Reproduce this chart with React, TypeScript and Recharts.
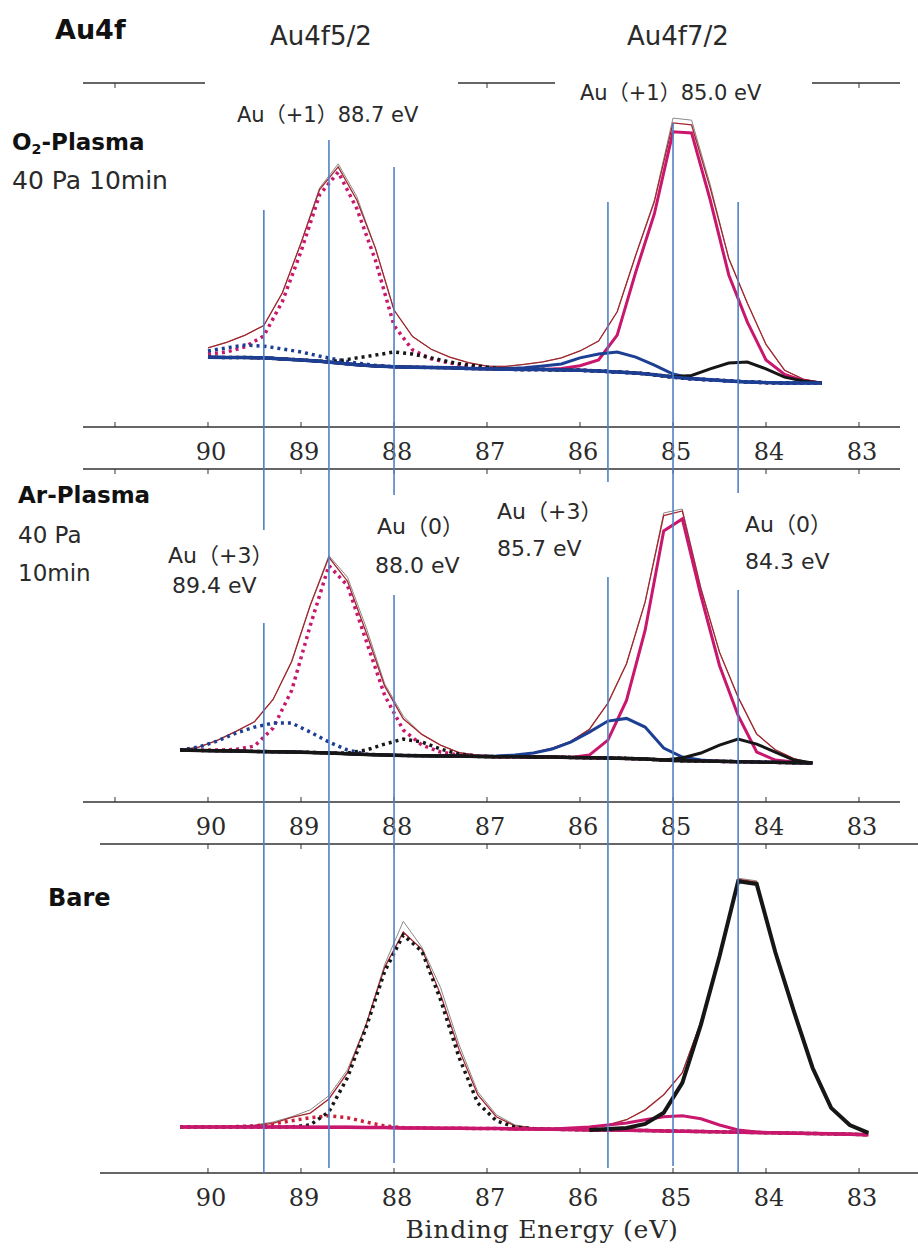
import { LineChart, Line, XAxis, YAxis, ReferenceLine } from 'recharts'

// ── Au4f spectra (binding energy in eV, intensity in arbitrary units) ─────────

// O2 plasma, 40 Pa, 10 min
const o2Energy = [90.0, 89.8, 89.6, 89.4, 89.2, 89.0, 88.8, 88.6, 88.4, 88.2, 88.0, 87.8, 87.6, 87.4, 87.2, 87.0, 86.8, 86.6, 86.4, 86.2, 86.0, 85.8, 85.6, 85.4, 85.2, 85.0, 84.8, 84.6, 84.4, 84.2, 84.0, 83.8, 83.6, 83.4]
const o2Raw = [23.0, 24.6, 26.7, 29.5, 39.0, 53.5, 69.5, 76.5, 67.0, 52.0, 34.0, 26.3, 22.6, 20.3, 18.7, 17.7, 17.6, 18.2, 18.9, 20.1, 22.1, 25.0, 33.5, 50.0, 66.0, 89.8, 89.2, 70.5, 49.0, 36.0, 24.0, 16.5, 13.9, 12.9]
const o2Fit = [23.0, 24.6, 26.7, 29.5, 39.0, 53.5, 69.0, 75.6, 66.0, 52.0, 34.0, 26.3, 22.6, 20.3, 18.7, 17.7, 17.6, 18.2, 18.9, 20.1, 22.1, 25.0, 33.5, 50.0, 65.5, 88.4, 87.8, 69.5, 49.0, 36.0, 24.0, 16.5, 13.9, 12.9]
const o2Bg = [20.3, 20.2, 20.2, 20.1, 19.8, 19.5, 19.1, 18.6, 18.1, 17.7, 17.5, 17.4, 17.3, 17.2, 17.0, 16.9, 16.8, 16.7, 16.7, 16.6, 16.5, 16.3, 16.0, 15.7, 15.2, 14.5, 14.0, 13.7, 13.4, 13.1, 12.9, 12.8, 12.8, 12.8]
const o2AuI72 = [20.3, 20.2, 20.2, 20.1, 19.8, 19.5, 19.1, 18.6, 18.1, 17.7, 17.5, 17.4, 17.3, 17.2, 17.0, 16.9, 16.8, 16.7, 16.7, 17.0, 17.8, 19.5, 26.7, 45.1, 62.0, 85.8, 85.5, 66.0, 44.2, 30.5, 19.5, 15.3, 13.5, 12.8]
const o2AuI52 = [21.2, 21.8, 23.3, 26.5, 36.5, 51.0, 67.5, 74.1, 63.5, 48.5, 29.5, 22.4, 19.8, 18.6, 17.7, 17.2, 16.8, 16.7, 16.7, 16.6, 16.5, 16.3, 16.0, 15.7, 15.2, 14.5, 14.0, 13.7, 13.4, 13.1, 12.9, 12.8, 12.8, 12.8]
const o2AuIII72 = [20.3, 20.2, 20.2, 20.1, 19.8, 19.5, 19.1, 18.6, 18.1, 17.7, 17.5, 17.4, 17.3, 17.2, 17.0, 16.9, 17.0, 17.2, 17.7, 18.3, 20.1, 21.2, 21.8, 20.3, 18.0, 15.4, 14.2, 13.7, 13.4, 13.1, 12.9, 12.8, 12.8, 12.8]
const o2AuIII52 = [22.1, 23.0, 23.8, 23.5, 22.7, 21.8, 20.6, 19.5, 18.6, 17.9, 17.5, 17.4, 17.3, 17.2, 17.0, 16.9, 16.8, 16.7, 16.7, 16.6, 16.5, 16.3, 16.0, 15.7, 15.2, 14.5, 14.0, 13.7, 13.4, 13.1, 12.9, 12.8, 12.8, 12.8]
const o2Au072 = [20.3, 20.2, 20.2, 20.1, 19.8, 19.5, 19.1, 18.6, 18.1, 17.7, 17.5, 17.4, 17.3, 17.2, 17.0, 16.9, 16.8, 16.7, 16.7, 16.6, 16.5, 16.3, 16.0, 15.7, 15.2, 14.6, 15.0, 16.9, 18.6, 18.9, 16.9, 14.5, 13.4, 12.8]
const o2Au052 = [20.3, 20.2, 20.2, 20.1, 19.8, 19.5, 19.1, 19.2, 20.1, 20.9, 21.8, 21.2, 20.1, 18.9, 18.0, 17.4, 16.8, 16.7, 16.7, 16.6, 16.5, 16.3, 16.0, 15.7, 15.2, 14.5, 14.0, 13.7, 13.4, 13.1, 12.9, 12.8, 12.8, 12.8]

// Ar plasma, 40 Pa, 10 min
const arEnergy = [90.3, 90.1, 89.9, 89.7, 89.5, 89.3, 89.1, 88.9, 88.7, 88.5, 88.3, 88.1, 87.9, 87.7, 87.5, 87.3, 87.1, 86.9, 86.7, 86.5, 86.3, 86.1, 85.9, 85.7, 85.5, 85.3, 85.1, 84.9, 84.7, 84.5, 84.3, 84.1, 83.9, 83.7, 83.5]
const arRaw = [15.6, 16.5, 18.5, 21.2, 24.1, 30.8, 42.2, 59.1, 74.0, 67.5, 52.5, 35.5, 25.8, 20.3, 17.1, 14.8, 14.1, 13.9, 14.1, 14.8, 16.2, 18.2, 21.8, 29.7, 41.5, 60.0, 86.8, 88.0, 64.5, 45.0, 31.5, 20.4, 15.7, 13.0, 11.7]
const arFit = [15.6, 16.5, 18.5, 21.2, 24.1, 30.8, 42.2, 59.1, 73.5, 66.3, 51.0, 34.8, 25.0, 20.3, 17.1, 14.8, 14.1, 13.9, 14.1, 14.8, 16.2, 18.2, 21.8, 29.7, 41.5, 60.0, 86.0, 87.4, 64.0, 45.0, 31.5, 20.4, 15.7, 13.0, 11.7]
const arBg = [15.6, 15.5, 15.4, 15.3, 15.2, 15.1, 15.0, 14.9, 14.7, 14.5, 14.3, 14.1, 14.0, 13.9, 13.8, 13.8, 13.7, 13.6, 13.6, 13.5, 13.5, 13.4, 13.3, 13.2, 13.1, 12.9, 12.6, 12.4, 12.3, 12.2, 12.1, 12.0, 11.9, 11.8, 11.7]
const arAuI72 = [15.6, 15.5, 15.4, 15.3, 15.2, 15.1, 15.0, 14.9, 14.7, 14.5, 14.3, 14.1, 14.0, 13.9, 13.8, 13.8, 13.7, 13.6, 13.6, 13.5, 13.5, 13.4, 14.1, 18.6, 30.5, 51.5, 81.4, 85.0, 62.0, 41.0, 26.0, 15.0, 12.6, 12.0, 11.7]
const arAuI52 = [15.6, 15.5, 15.6, 15.8, 16.8, 22.2, 33.5, 53.0, 71.0, 65.0, 48.5, 32.0, 21.6, 17.1, 15.0, 14.1, 13.8, 13.6, 13.6, 13.5, 13.5, 13.4, 13.3, 13.2, 13.1, 12.9, 12.6, 12.4, 12.3, 12.2, 12.1, 12.0, 11.9, 11.8, 11.7]
const arAuIII72 = [15.6, 15.5, 15.4, 15.3, 15.2, 15.1, 15.0, 14.9, 14.7, 14.5, 14.3, 14.1, 14.0, 13.9, 13.8, 13.8, 13.7, 13.8, 14.1, 14.7, 15.9, 18.0, 21.0, 24.3, 25.1, 22.5, 16.2, 13.5, 12.6, 12.2, 12.1, 12.0, 11.9, 11.8, 11.7]
const arAuIII52 = [15.6, 16.5, 18.3, 20.7, 22.5, 23.7, 23.7, 21.0, 18.0, 15.6, 14.4, 14.1, 14.0, 13.9, 13.8, 13.8, 13.7, 13.6, 13.6, 13.5, 13.5, 13.4, 13.3, 13.2, 13.1, 12.9, 12.6, 12.4, 12.3, 12.2, 12.1, 12.0, 11.9, 11.8, 11.7]
const arAu072 = [15.6, 15.5, 15.4, 15.3, 15.2, 15.1, 15.0, 14.9, 14.7, 14.5, 14.3, 14.1, 14.0, 13.9, 13.8, 13.8, 13.7, 13.6, 13.6, 13.5, 13.5, 13.4, 13.3, 13.2, 13.1, 12.9, 12.6, 13.2, 14.7, 17.1, 18.9, 17.4, 15.0, 12.6, 11.7]
const arAu052 = [15.6, 15.5, 15.4, 15.3, 15.2, 15.1, 15.0, 14.9, 14.7, 14.7, 15.6, 17.4, 18.9, 18.0, 15.9, 14.4, 13.8, 13.6, 13.6, 13.5, 13.5, 13.4, 13.3, 13.2, 13.1, 12.9, 12.6, 12.4, 12.3, 12.2, 12.1, 12.0, 11.9, 11.8, 11.7]

// untreated (bare) gold
const bareEnergy = [90.3, 90.1, 89.9, 89.7, 89.5, 89.3, 89.1, 88.9, 88.7, 88.5, 88.3, 88.1, 87.9, 87.7, 87.5, 87.3, 87.1, 86.9, 86.7, 86.5, 86.3, 86.1, 85.9, 85.7, 85.5, 85.3, 85.1, 84.9, 84.7, 84.5, 84.3, 84.1, 83.9, 83.7, 83.5, 83.3, 83.1, 82.9]
const bareRaw = [14.0, 14.0, 14.0, 14.3, 14.6, 15.5, 17.1, 19.2, 23.5, 31.4, 45.1, 63.4, 76.5, 68.6, 56.4, 39.0, 24.7, 17.7, 14.6, 13.7, 13.5, 13.7, 13.7, 14.6, 16.2, 19.2, 23.8, 30.5, 46.0, 65.9, 89.6, 88.8, 67.1, 49.1, 32.0, 19.8, 14.6, 12.2]
const bareFit = [14.0, 14.0, 14.0, 14.1, 14.4, 15.1, 16.9, 18.2, 22.5, 30.5, 45.1, 62.5, 73.2, 68.0, 54.3, 37.5, 23.8, 17.1, 14.3, 13.7, 13.5, 13.7, 13.7, 14.6, 16.2, 19.2, 23.8, 30.5, 46.0, 65.9, 89.3, 88.4, 67.1, 49.1, 32.0, 19.8, 14.6, 12.2]
const bareBg = [14.0, 14.0, 14.0, 14.0, 14.0, 14.0, 14.0, 13.9, 13.9, 13.9, 13.8, 13.8, 13.7, 13.7, 13.6, 13.6, 13.5, 13.5, 13.4, 13.4, 13.3, 13.2, 13.1, 13.1, 13.0, 12.9, 12.8, 12.7, 12.6, 12.5, 12.4, 12.3, 12.2, 12.1, 12.0, 11.9, 11.8, 11.6]
const bareAuI72 = [14.0, 14.0, 14.0, 14.0, 14.0, 14.0, 14.0, 13.9, 13.9, 13.9, 13.8, 13.8, 13.7, 13.7, 13.6, 13.6, 13.5, 13.5, 13.4, 13.4, 13.4, 13.7, 14.0, 14.6, 15.2, 16.2, 17.1, 17.4, 16.5, 14.6, 13.1, 12.5, 12.2, 12.1, 12.0, 11.9, 11.8, 11.6]
const bareAuI52 = [14.0, 14.0, 14.0, 14.1, 14.3, 14.9, 15.9, 16.8, 17.4, 16.8, 15.5, 14.3, 13.8, 13.7, 13.6, 13.6, 13.5, 13.5, 13.4, 13.4, 13.3, 13.2, 13.1, 13.1, 13.0, 12.9, 12.8, 12.7, 12.6, 12.5, 12.4, 12.3, 12.2, 12.1, 12.0, 11.9, 11.8, 11.6]
// the Au(0) 7/2 component is only plotted from 85.9 eV down
const bareAu072 = [null, null, null, null, null, null, null, null, null, null, null, null, null, null, null, null, null, null, null, null, null, null, 13.1, 13.4, 13.7, 14.9, 18.3, 27.4, 45.1, 65.9, 88.7, 87.8, 67.1, 49.1, 32.0, 19.8, 14.6, 12.2]
const bareAu052 = [14.0, 14.0, 14.0, 14.0, 14.0, 14.0, 14.0, 14.6, 18.6, 29.0, 44.2, 61.3, 72.3, 67.4, 52.7, 35.1, 21.3, 15.9, 13.9, 13.5, 13.3, 13.2, 13.1, 13.1, 13.0, 12.9, 12.8, 12.7, 12.6, 12.5, 12.4, 12.3, 12.2, 12.1, 12.0, 11.9, 11.8, 11.6]

// reference peak positions (eV) and axis ticks
const peakPositions = [89.4, 88.7, 88.0, 85.7, 85.0, 84.3]
const ticksWide = [91, 90, 89, 88, 87, 86, 85, 84, 83]
const ticksNarrow = [90, 89, 88, 87, 86, 85, 84, 83]

// ── Styles / layout ──────────────────────────────────────────────────────────

const MAGENTA = '#c8176c'
const BLUE = '#1c3f94'
const BLACK = '#161616'
const BROWN = '#a3262c'
const GRAY = '#8a8a8a'
const RED = '#cc1f3a'
const MARKER = '#4f81c7'
const AXIS = '#333'
const DOTS = '3 4'

const SANS = "'DejaVu Sans', 'Noto Sans CJK JP', sans-serif"
const SERIF = "'DejaVu Serif', serif"

// vertical extent of each peak marker on the page (gaps leave room for labels)
const MARKER_RUNS: Record<number, [number, number][]> = {
  89.4: [[210, 530], [623, 1173]],
  88.7: [[140, 1168]],
  88.0: [[167, 495], [595, 1163]],
  85.7: [[202, 482], [577, 1168]],
  85.0: [[123, 1166]],
  84.3: [[202, 493], [590, 1172]],
}

interface Trace {
  key: string
  values: (number | null)[]
  color: string
  width: number
  dash?: string
}

const o2Traces: Trace[] = [
  { key: 'raw', values: o2Raw, color: GRAY, width: 1 },
  { key: 'fit', values: o2Fit, color: BROWN, width: 1.3 },
  { key: 'auI52', values: o2AuI52, color: MAGENTA, width: 3.5, dash: DOTS },
  { key: 'auIII52', values: o2AuIII52, color: BLUE, width: 3.5, dash: DOTS },
  { key: 'au052', values: o2Au052, color: BLACK, width: 3.5, dash: DOTS },
  { key: 'auI72', values: o2AuI72, color: MAGENTA, width: 3 },
  { key: 'auIII72', values: o2AuIII72, color: BLUE, width: 3 },
  { key: 'au072', values: o2Au072, color: BLACK, width: 3 },
  { key: 'bg', values: o2Bg, color: BLUE, width: 3.5 },
]

const arTraces: Trace[] = [
  { key: 'raw', values: arRaw, color: GRAY, width: 1 },
  { key: 'fit', values: arFit, color: BROWN, width: 1.3 },
  { key: 'auI52', values: arAuI52, color: MAGENTA, width: 3.5, dash: DOTS },
  { key: 'auIII52', values: arAuIII52, color: BLUE, width: 3.5, dash: DOTS },
  { key: 'au052', values: arAu052, color: BLACK, width: 3.5, dash: DOTS },
  { key: 'auI72', values: arAuI72, color: MAGENTA, width: 3 },
  { key: 'auIII72', values: arAuIII72, color: BLUE, width: 3 },
  { key: 'au072', values: arAu072, color: BLACK, width: 3 },
  { key: 'bg', values: arBg, color: BLACK, width: 3.5 },
]

const bareTraces: Trace[] = [
  { key: 'raw', values: bareRaw, color: GRAY, width: 1 },
  { key: 'fit', values: bareFit, color: BROWN, width: 1.3 },
  { key: 'auI52', values: bareAuI52, color: RED, width: 3.5, dash: DOTS },
  { key: 'au052', values: bareAu052, color: BLACK, width: 3.5, dash: DOTS },
  { key: 'bg', values: bareBg, color: MAGENTA, width: 3.5 },
  { key: 'auI72', values: bareAuI72, color: MAGENTA, width: 3 },
  { key: 'au072', values: bareAu072, color: BLACK, width: 4 },
]

// ── Ticks ────────────────────────────────────────────────────────────────────

// inward tick with the label hanging below the axis (no label for 91)
function bottomTick(props: any) {
  const { x, y, payload } = props
  const v = payload.value as number
  return (
    <g>
      <line x1={x} x2={x} y1={y} y2={y - 5} stroke={AXIS} strokeWidth={1} />
      {v <= 90 && (
        <text x={x + 3} y={y + 25} textAnchor="middle" dominantBaseline="central"
          fontFamily={SERIF} fontSize={24} fill="#2a2a2a">{v}</text>
      )}
    </g>
  )
}

function topTick(props: any) {
  const { x, y } = props
  return <line x1={x} x2={x} y1={y} y2={y + 5} stroke={AXIS} strokeWidth={1} />
}

// ── One spectrum panel ───────────────────────────────────────────────────────

interface PanelProps {
  top: number
  bottom: number
  left: number
  right: number
  domain: [number, number]
  energy: number[]
  traces: Trace[]
  ticks: number[]
}

function Panel({ top, bottom, left, right, domain, energy, traces, ticks }: PanelProps) {
  const rows = energy.map((e, i) => {
    const row: Record<string, number | null> = { e }
    traces.forEach(t => { row[t.key] = t.values[i] })
    return row
  })
  const padTop = 8
  const padBottom = 44

  // both energy axes take 1px of the margin, so the frame lines land on top/bottom
  return (
    <div style={{ position: 'absolute', left: 0, top: top - padTop }}>
      <LineChart width={918} height={bottom - top + padTop + padBottom} data={rows}
        margin={{ top: padTop - 1, right: 918 - right, bottom: padBottom - 1, left }}>
        <XAxis xAxisId="b" dataKey="e" type="number" domain={domain} reversed allowDataOverflow
          ticks={ticks} interval={0} height={1} tickSize={0} tickMargin={0} tickLine={false}
          axisLine={{ stroke: AXIS, strokeWidth: 1.3 }} tick={bottomTick} />
        <XAxis xAxisId="t" orientation="top" dataKey="e" type="number" domain={domain} reversed allowDataOverflow
          ticks={ticks} interval={0} height={1} tickSize={0} tickMargin={0} tickLine={false}
          axisLine={{ stroke: AXIS, strokeWidth: 1.3 }} tick={topTick} />
        <YAxis hide width={0} domain={[0, 100]} allowDataOverflow />
        {traces.map(t => (
          <Line key={t.key} xAxisId="b" dataKey={t.key} type="linear" stroke={t.color}
            strokeWidth={t.width} strokeDasharray={t.dash} dot={false} activeDot={false}
            isAnimationActive={false} />
        ))}
      </LineChart>
    </div>
  )
}

// ── Peak markers running through all three panels ────────────────────────────

function Markers() {
  const rows = peakPositions.map(e => ({ e }))
  return (
    <div style={{ position: 'absolute', left: 0, top: 0, pointerEvents: 'none' }}>
      <LineChart width={918} height={1250} data={rows} margin={{ top: 0, right: 0, bottom: 0, left: 0 }}>
        <XAxis hide dataKey="e" type="number" domain={[82.366, 92.237]} reversed allowDataOverflow height={1} />
        <YAxis hide width={0} domain={[0, 1250]} reversed allowDataOverflow />
        {peakPositions.flatMap(e =>
          MARKER_RUNS[e].map(([y1, y2], i) => (
            <ReferenceLine key={`${e}-${i}`} segment={[{ x: e, y: y1 }, { x: e, y: y2 }]}
              stroke={MARKER} strokeWidth={1.6} ifOverflow="visible" />
          )),
        )}
      </LineChart>
    </div>
  )
}

// ── Text ─────────────────────────────────────────────────────────────────────

function Label({ x, cy, size, bold, children }: { x: number; cy: number; size: number; bold?: boolean; children: any }) {
  const lh = Math.round(size * 1.2)
  return (
    <div style={{
      position: 'absolute', left: x, top: cy - lh / 2, lineHeight: `${lh}px`,
      fontFamily: SANS, fontSize: size, fontWeight: bold ? 700 : 400,
      color: bold ? '#111' : '#2a2a2a', whiteSpace: 'nowrap',
    }}>{children}</div>
  )
}

function Mask({ x1, x2, y1, y2 }: { x1: number; x2: number; y1: number; y2: number }) {
  return <div style={{ position: 'absolute', left: x1, top: y1, width: x2 - x1, height: y2 - y1, background: '#fff' }} />
}

export default function App() {
  return (
    <div style={{ position: 'absolute', left: 0, top: 0, width: 918, height: 1250, background: '#fff', overflow: 'hidden' }}>
      <Panel top={83} bottom={427} left={83} right={900} domain={[82.559, 91.344]}
        energy={o2Energy} traces={o2Traces} ticks={ticksWide} />
      <Panel top={469} bottom={802} left={83} right={900} domain={[82.559, 91.344]}
        energy={arEnergy} traces={arTraces} ticks={ticksWide} />
      <Panel top={844} bottom={1173} left={100} right={918} domain={[82.366, 91.161]}
        energy={bareEnergy} traces={bareTraces} ticks={ticksNarrow} />

      <Mask x1={205} x2={458} y1={70} y2={133} />
      <Mask x1={555} x2={812} y1={70} y2={113} />

      <Label x={55} cy={30} size={27} bold>Au4f</Label>
      <Label x={270} cy={36} size={26}>Au4f5/2</Label>
      <Label x={627} cy={36} size={26}>Au4f7/2</Label>
      <Label x={237} cy={115} size={21}>Au（+1）88.7 eV</Label>
      <Label x={580} cy={93} size={21}>Au（+1）85.0 eV</Label>

      <Label x={12} cy={142} size={23} bold>
        O<span style={{ fontSize: '0.62em', verticalAlign: '-0.25em' }}>2</span>-Plasma
      </Label>
      <Label x={12} cy={181} size={25}>40 Pa 10min</Label>

      <Label x={18} cy={495} size={23} bold>Ar-Plasma</Label>
      <Label x={18} cy={535} size={23}>40 Pa</Label>
      <Label x={18} cy={573} size={23}>10min</Label>
      <Label x={168} cy={556} size={22}>Au（+3）</Label>
      <Label x={172} cy={586} size={22}>89.4 eV</Label>
      <Label x={377} cy={527} size={22}>Au（0）</Label>
      <Label x={375} cy={566} size={22}>88.0 eV</Label>
      <Label x={497} cy={512} size={22}>Au（+3）</Label>
      <Label x={497} cy={549} size={22}>85.7 eV</Label>
      <Label x={745} cy={525} size={22}>Au（0）</Label>
      <Label x={745} cy={562} size={22}>84.3 eV</Label>

      <Label x={48} cy={898} size={24} bold>Bare</Label>

      <div style={{
        position: 'absolute', left: 342, width: 400, top: 1214, textAlign: 'center',
        fontFamily: SERIF, fontSize: 25, letterSpacing: 0.8, color: '#2a2a2a', lineHeight: '32px',
      }}>Binding Energy (eV)</div>

      <Markers />
    </div>
  )
}
